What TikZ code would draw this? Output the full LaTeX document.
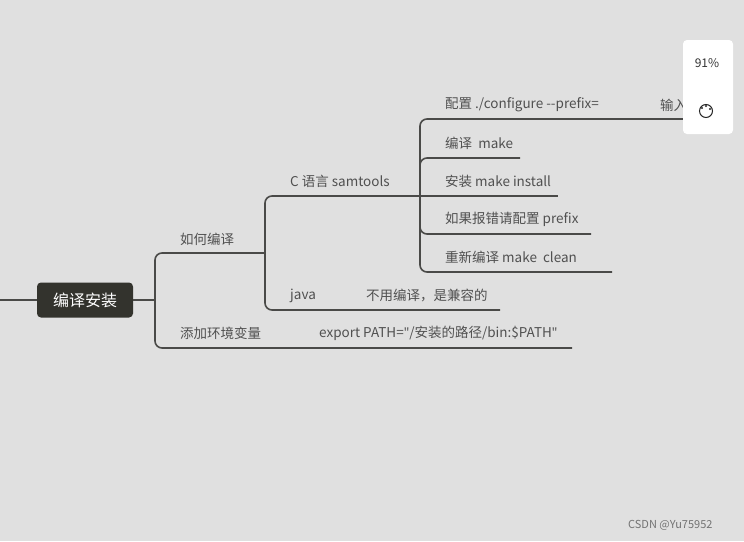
\documentclass[tikz,border=0pt]{standalone}
\usepackage{fontspec}
\setmainfont{Noto Sans CJK SC}
\newfontfamily\latf{Noto Sans}
\newcommand{\dq}{{\latf\char"22}}
\begin{document}
\begin{tikzpicture}[x=1pt,y=-1pt,
  ln/.style={draw=lc,line width=1.6pt,rounded corners=7pt},
  lb/.style={anchor=west,inner sep=0pt,text=tc,font=\fontsize{13.5}{15}\selectfont}]
\definecolor{bg}{HTML}{E0E0E0}
\definecolor{lc}{HTML}{4A4A48}
\definecolor{tc}{HTML}{505050}
\definecolor{rootc}{HTML}{33332D}
\useasboundingbox (0,0) rectangle (744,541);
\fill[bg] (0,0) rectangle (744,541);
% root
\node[fill=rootc,rounded corners=4pt,minimum width=96pt,minimum height=35pt,text=white,font=\fontsize{16}{18}\selectfont] (root) at (85,300) {编译安装};
\coordinate (l0) at (0,300);
\draw[ln] (l0) -- (root.west);
\coordinate (t0) at (155,300);
\draw[ln] (root.east) -- (t0);
% level 1
\node[lb] (howc) at (180,239) {如何编译};
\node[lb] (env) at (180,333) {添加环境变量};
\node[lb] (exp) at (319,333) {export PATH=\dq/安装的路径/bin:\$PATH\dq};
\coordinate (e1) at (265,253);
\coordinate (e2) at (572,348);
\draw[ln] (t0) -- (155,253) -- (e1);
\draw[ln] (t0) -- (155,348) -- (e2);
% level 2
\node[lb] (c) at (290,181) {C 语言 samtools};
\node[lb] (java) at (290,296) {java};
\node[lb] (jn) at (366,296) {不用编译，是兼容的};
\coordinate (c1) at (420,196);
\coordinate (j1) at (500,310);
\draw[ln] (e1) -- (265,196) -- (c1);
\draw[ln] (e1) -- (265,310) -- (j1);
% level 3
\node[lb] (a1) at (445,105) {配置 ./configure -{}-prefix=};
\node[lb] (a1b) at (660,105) {输入};
\node[lb] (a2) at (445,143) {编译\ \ make};
\node[lb] (a3) at (445,181) {安装 make install};
\node[lb] (a4) at (445,219) {如果报错请配置 prefix};
\node[lb] (a5) at (445,257) {重新编译 make\ \ clean};
\coordinate (b1) at (690,119);
\coordinate (b2) at (520,158);
\coordinate (b3) at (558,196);
\coordinate (b4) at (591,234);
\coordinate (b5) at (612,272);
\draw[ln] (c1) -- (420,119) -- (b1);
\draw[ln] (c1) -- (420,158) -- (b2);
\draw[ln] (c1) -- (b3);
\draw[ln] (c1) -- (420,234) -- (b4);
\draw[ln] (c1) -- (420,272) -- (b5);
% popup
\node[fill=white,rounded corners=4pt,minimum width=50pt,minimum height=94pt,inner sep=0pt] (pop) at (708,87) {};
\node[font=\fontsize{12}{14}\selectfont,text=black!80] (pct) at (707,63) {91\%};
\node[draw=black!85,line width=1pt,circle,minimum size=13pt,inner sep=0pt] (pal) at (706,111) {};
\fill[black!85] (702,108) circle (1.2pt) (706,106) circle (1.2pt) (710,109) circle (1.2pt);
\node[lb,text=black!55,font=\fontsize{11}{13}\selectfont] (wm) at (628,525) {CSDN @Yu75952};
\end{tikzpicture}
\end{document}
